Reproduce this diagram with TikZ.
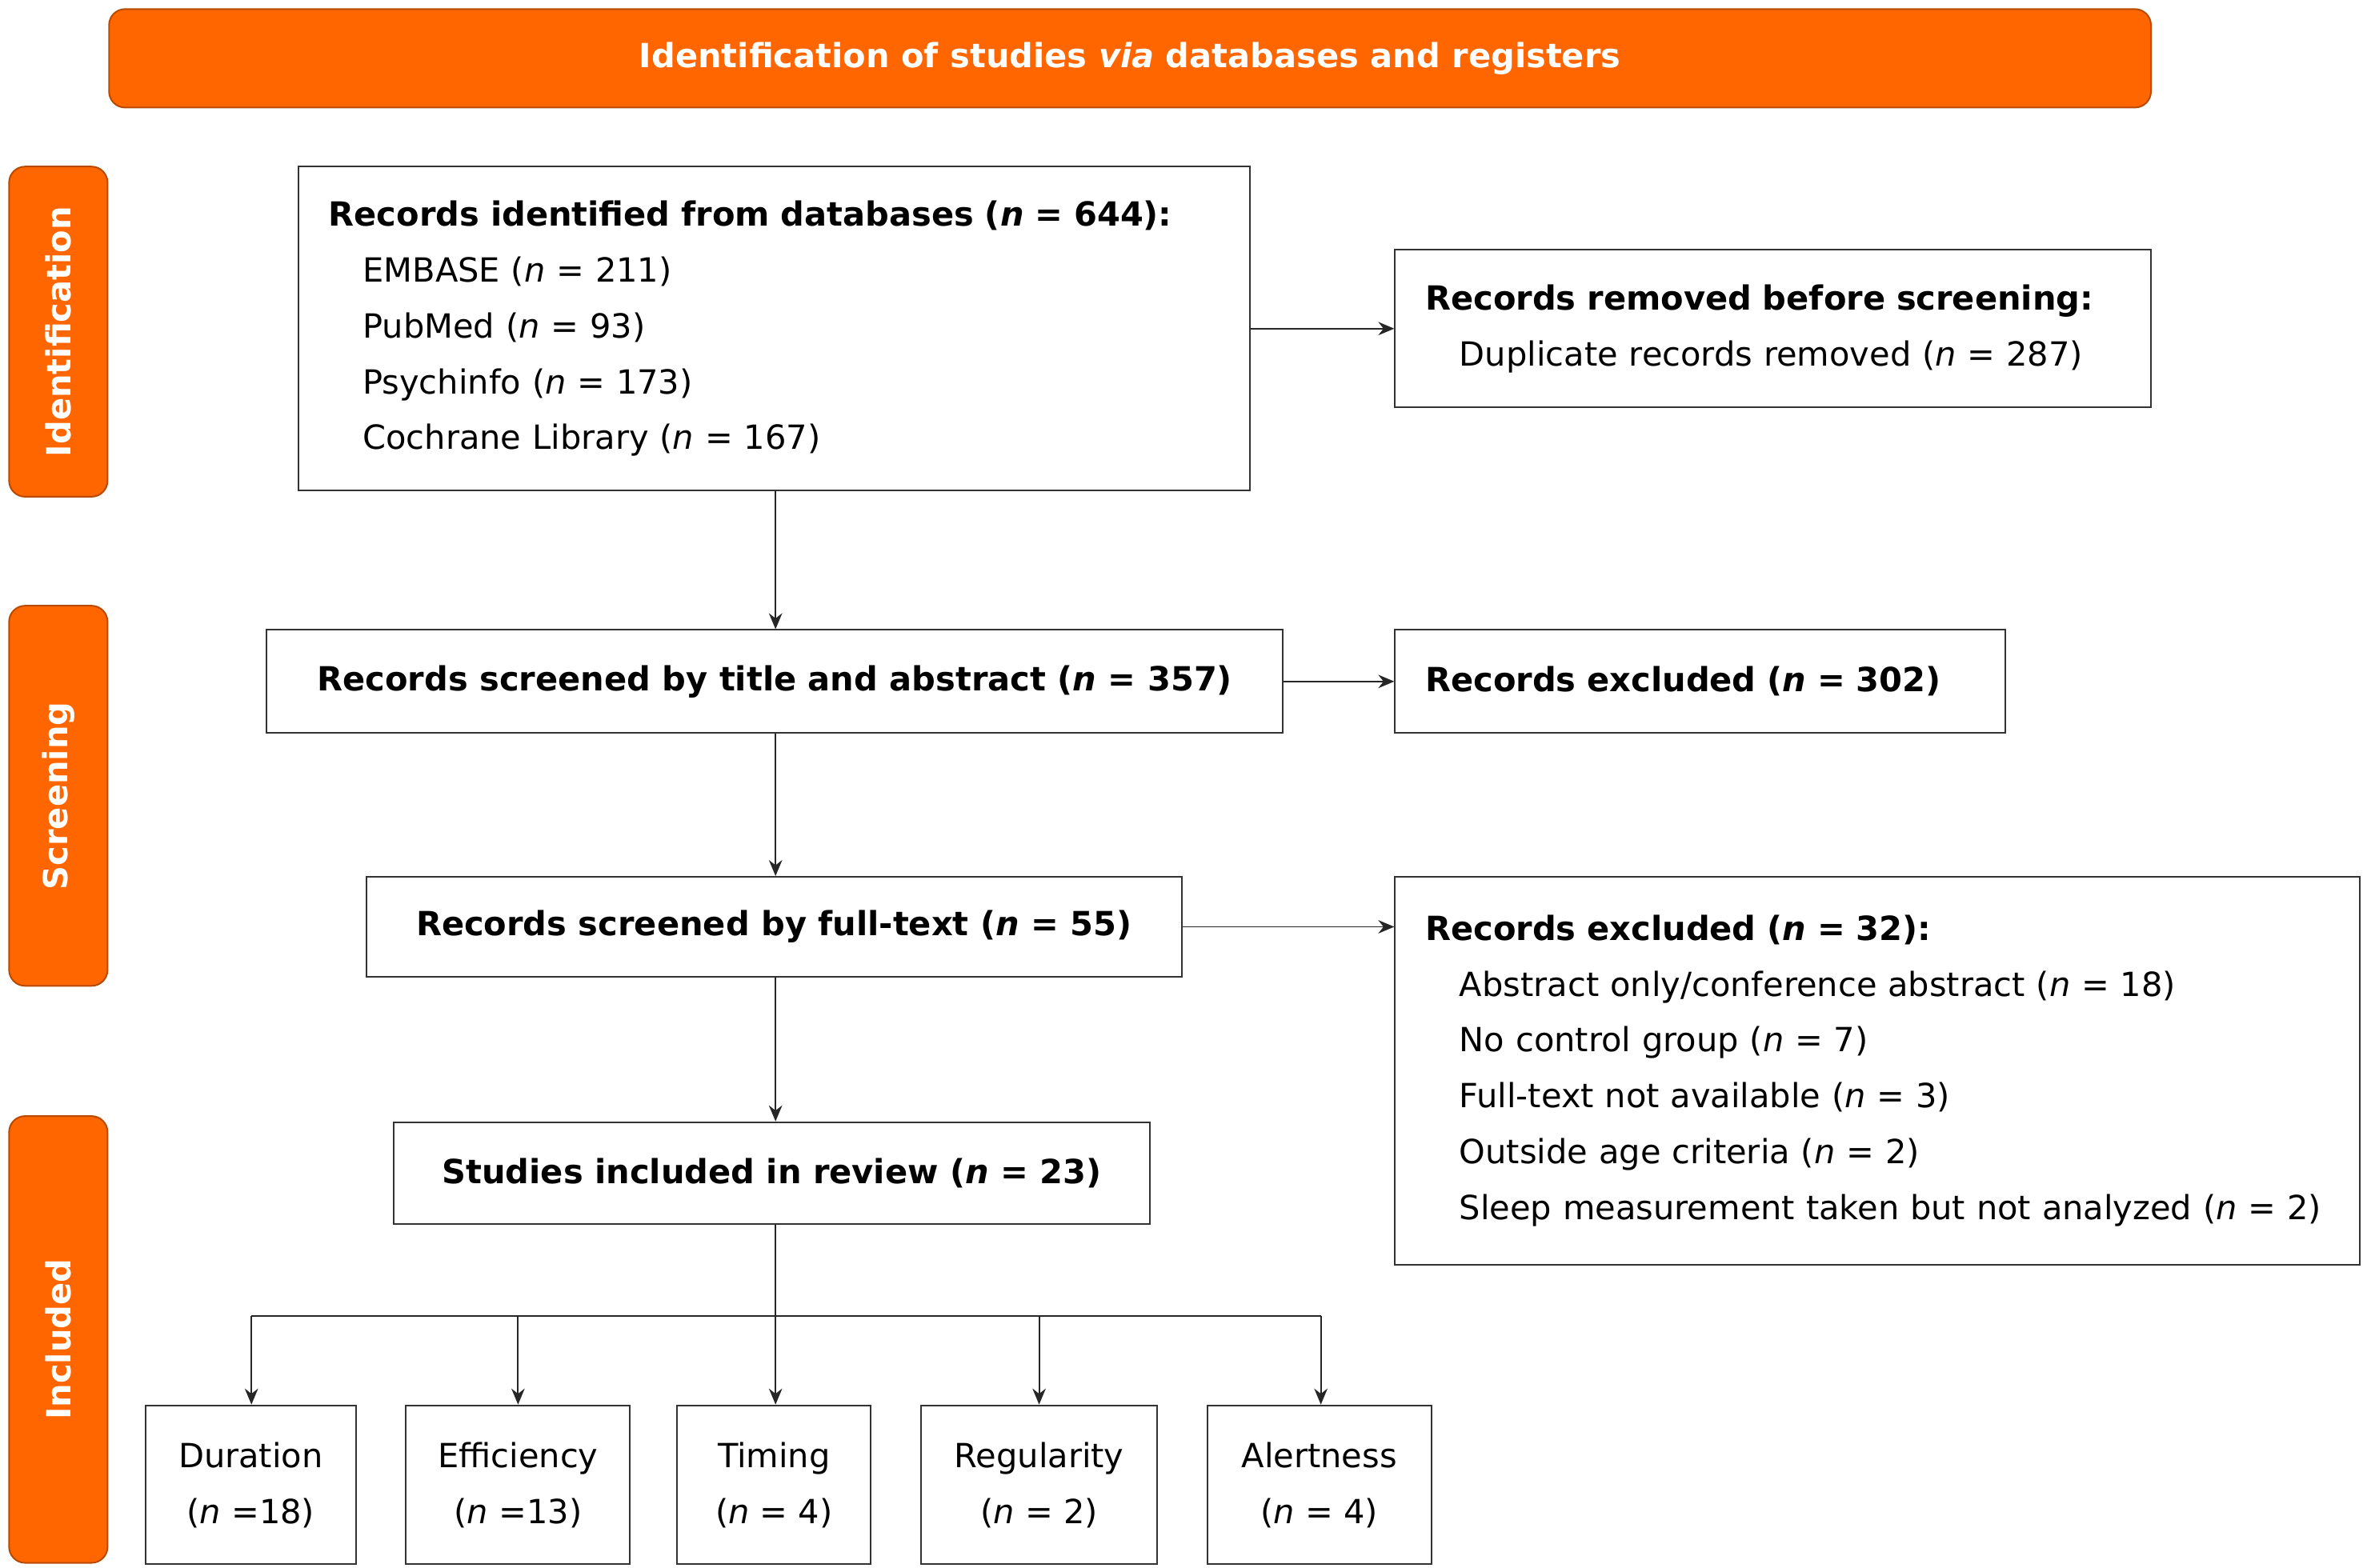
\documentclass[tikz,border=0pt]{standalone}
\usepackage{fontspec}
\setmainfont{DejaVu Sans}
\usetikzlibrary{arrows.meta}
\definecolor{org}{HTML}{FF6600}
\definecolor{orgd}{HTML}{B84A00}
\newcommand{\nn}{\textit{n}}
\begin{document}
\begin{tikzpicture}[x=0.02cm,y=-0.02cm,
  every node/.style={font=\fontsize{12.5}{21}\selectfont},
  box/.style={draw=black!80,line width=0.6pt,rectangle,inner sep=0pt},
  side/.style={draw=orgd,fill=org,rounded corners=6pt,line width=0.6pt},
  arr/.style={-{Stealth[length=6pt,width=5pt]},line width=0.6pt,draw=black!85}]
\useasboundingbox (0,0) rectangle (1560,1035);
% header
\node[side,minimum width=1348*0.02cm,minimum height=65*0.02cm,text=white,font=\fontsize{12.5}{15}\selectfont\bfseries] (hdr) at (746,38.5) {Identification of studies \textit{via} databases and registers};
\node[side,minimum width=65*0.02cm,minimum height=218*0.02cm] (s1) at (38.5,219) {};
\node[rotate=90,text=white,font=\fontsize{12.5}{15}\selectfont\bfseries] (t1) at (s1) {Identification};
\node[side,minimum width=65*0.02cm,minimum height=251*0.02cm] (s2) at (38.5,525.5) {};
\node[rotate=90,text=white,font=\fontsize{12.5}{15}\selectfont\bfseries] (t2) at (s2) {Screening};
\node[side,minimum width=65*0.02cm,minimum height=295*0.02cm] (s3) at (38.5,884.5) {};
\node[rotate=90,text=white,font=\fontsize{12.5}{15}\selectfont\bfseries] (t3) at (s3) {Included};
% boxes
\node[box,minimum width=628*0.02cm,minimum height=214*0.02cm,text width=588*0.02cm,align=left] (A) at (511,217) {\textbf{Records identified from databases (\nn{} = 644):}\\
\hspace*{0.45cm}EMBASE (\nn{} = 211)\\
\hspace*{0.45cm}PubMed (\nn{} = 93)\\
\hspace*{0.45cm}Psychinfo (\nn{} = 173)\\
\hspace*{0.45cm}Cochrane Library (\nn{} = 167)};
\node[box,minimum width=499*0.02cm,minimum height=104*0.02cm,text width=459*0.02cm,align=left] (B) at (1170.5,217) {\textbf{Records removed before screening:}\\
\hspace*{0.45cm}Duplicate records removed (\nn{} = 287)};
\node[box,minimum width=671*0.02cm,minimum height=68*0.02cm] (C) at (511.5,450) {\textbf{Records screened by title and abstract (\nn{} = 357)}};
\node[box,minimum width=403*0.02cm,minimum height=68*0.02cm,text width=363*0.02cm,align=left] (D) at (1122.5,450) {\textbf{Records excluded (\nn{} = 302)}};
\node[box,minimum width=538*0.02cm,minimum height=66*0.02cm] (E) at (511,612) {\textbf{Records screened by full-text (\nn{} = 55)}};
\node[box,minimum width=637*0.02cm,minimum height=256*0.02cm,text width=597*0.02cm,align=left] (F) at (1239.5,707) {\textbf{Records excluded (\nn{} = 32):}\\
\hspace*{0.45cm}Abstract only/conference abstract (\nn{} = 18)\\
\hspace*{0.45cm}No control group (\nn{} = 7)\\
\hspace*{0.45cm}Full-text not available (\nn{} = 3)\\
\hspace*{0.45cm}Outside age criteria (\nn{} = 2)\\
\hspace*{0.45cm}Sleep measurement taken but not analyzed (\nn{} = 2)};
\node[box,minimum width=499*0.02cm,minimum height=67*0.02cm] (G) at (509.5,774.5) {\textbf{Studies included in review (\nn{} = 23)}};
\tikzset{sm/.style={box,minimum height=105*0.02cm,align=center}}
\node[sm,minimum width=139*0.02cm] (b1) at (165.5,980.5) {Duration\\(\nn{} =18)};
\node[sm,minimum width=148*0.02cm] (b2) at (342,980.5) {Efficiency\\(\nn{} =13)};
\node[sm,minimum width=128*0.02cm] (b3) at (511,980.5) {Timing\\(\nn{} = 4)};
\node[sm,minimum width=156*0.02cm] (b4) at (686,980.5) {Regularity\\(\nn{} = 2)};
\node[sm,minimum width=148*0.02cm] (b5) at (871,980.5) {Alertness\\(\nn{} = 4)};
% arrows
\draw[arr] (A.south -| 512,0) -- (C.north -| 512,0);
\draw[arr] (C.south -| 512,0) -- (E.north -| 512,0);
\draw[arr] (E.south -| 512,0) -- (G.north -| 512,0);
\draw[arr] (A.east |- 0,217) -- (B.west |- 0,217);
\draw[arr] (C.east) -- (D.west);
\draw[arr] (E.east) -- (F.west |- E.east);
\coordinate (j) at (512,869);
\draw[line width=0.6pt,draw=black!85] (G.south -| j) -- (j);
\draw[line width=0.6pt,draw=black!85] (166,869) -- (872,869);
\foreach \b/\x in {b1/166,b2/342,b3/512,b4/686,b5/872}
  \draw[arr] (\x,869) -- (\b.north -| \x,0);
\end{tikzpicture}
\end{document}
